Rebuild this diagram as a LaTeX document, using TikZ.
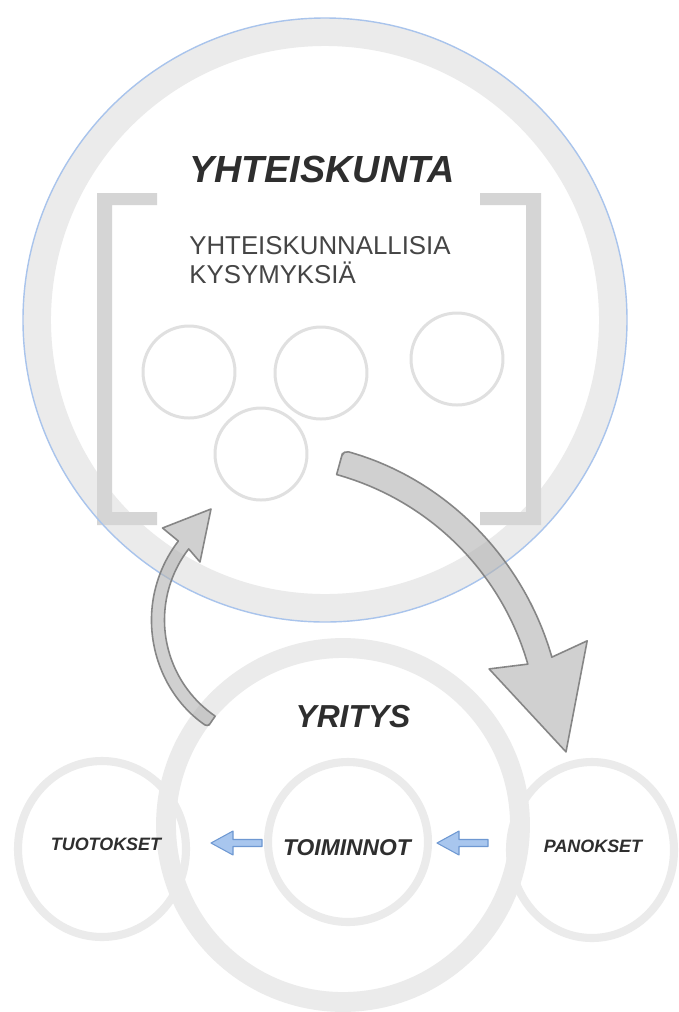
\documentclass[tikz,border=0pt]{standalone}
\usepackage{fontspec}
\setmainfont{Liberation Sans}
\definecolor{ringgray}{HTML}{EBEBEB}
\definecolor{bracketgray}{HTML}{D5D5D5}
\definecolor{thingray}{HTML}{E0E0E0}
\definecolor{skyline}{HTML}{A9C4EC}
\definecolor{inkdark}{HTML}{2E2E2E}
\definecolor{inkmid}{HTML}{454545}
\definecolor{arrowfill}{HTML}{B4B4B4}
\definecolor{arrowedge}{HTML}{7C7C7C}
\definecolor{bluefill}{HTML}{A8C6EE}
\definecolor{blueedge}{HTML}{6E98D2}
\begin{document}
\begin{tikzpicture}[x=0.02cm,y=-0.02cm,
  bigring/.style={draw=ringgray,line width=15.9pt},
  midring/.style={draw=ringgray,line width=11.3pt},
  partring/.style={draw=ringgray,line width=4.6pt},
  issue/.style={draw=thingray,line width=1.7pt},
  bracketbar/.style={fill=bracketgray},
  flowarrow/.style={fill=arrowfill,fill opacity=0.62,draw=arrowedge,draw opacity=0.9,line width=0.9pt,line join=round},
  smallflow/.style={fill=bluefill,draw=blueedge,line width=0.6pt,line join=round},
  title/.style={font=\fontsize{21.5}{24}\selectfont\bfseries\itshape,text=inkdark,inner sep=0pt},
  label/.style={font=\bfseries\itshape,text=inkdark,inner sep=0pt}]
\useasboundingbox (0,0) rectangle (679,1012);
\fill[white] (0,0) rectangle (679,1012);

% society: outer ring
\coordinate (society) at (325,320);
\draw[bigring] (society) circle[radius=288];

% brackets
\fill[bracketbar] (97,193) -- (157,193) -- (157,205) -- (112,205) -- (112,512)
  -- (157,512) -- (157,525) -- (97,525) -- cycle;
\fill[bracketbar] (541,193) -- (480,193) -- (480,205) -- (526,205) -- (526,512)
  -- (480,512) -- (480,525) -- (541,525) -- cycle;

\draw[skyline,line width=0.8pt] (society) circle[radius=302];

% titles and questions
\node[title,anchor=base] (yhteiskunta) at (322,182) {YHTEISKUNTA};
\node[anchor=base west,inner sep=0pt,align=left,text=inkmid,
  font=\fontsize{14.7}{16.4}\selectfont] (kysymykset) at (189,283)
  {YHTEISKUNNALLISIA\\KYSYMYKSIÄ};

% social issues
\draw[issue] (189,372) circle[radius=46];
\draw[issue] (321,373) circle[radius=46];
\draw[issue] (457,359) circle[radius=46];
\draw[issue] (261,454) circle[radius=46];

% company
\coordinate (company) at (343,825);
\draw[midring] (company) circle[radius=177];
\draw[partring] (102,849) ellipse[x radius=84,y radius=88];
\draw[partring] (348,842) circle[radius=80];
\draw[partring] (592,850) ellipse[x radius=82,y radius=88];

\node[label,anchor=base,font=\fontsize{18.1}{20}\selectfont\bfseries\itshape] (yritys) at (353,727) {YRITYS};
\node[label,anchor=base,font=\fontsize{10.2}{12}\selectfont\bfseries\itshape] (tuotokset) at (106,850) {TUOTOKSET};
\node[label,anchor=base,font=\fontsize{13}{15}\selectfont\bfseries\itshape] (toiminnot) at (347,855) {TOIMINNOT};
\node[label,anchor=base,font=\fontsize{10.2}{12}\selectfont\bfseries\itshape] (panokset) at (593,852) {PANOKSET};

% flow inside the company
\draw[smallflow] (211,843) -- (233,831) -- (233,839.5) -- (262,839.5) -- (262,846.5)
  -- (233,846.5) -- (233,855) -- cycle;
\draw[smallflow] (437,843) -- (459,831) -- (459,839.5) -- (488,839.5) -- (488,846.5)
  -- (459,846.5) -- (459,855) -- cycle;

% society -> inputs
\draw[flowarrow] [rounded corners=3pt] (336.6,474.5) -- (343.3,450.4) [sharp corners]
  arc[start angle=-74.5,end angle=-16,radius=300.5]
  -- (587.2,640.8) -- (566,751.9) -- (489.1,668.9) -- (527.8,664.1)
  arc[start angle=-16,end angle=-74.5,radius=275.5] [rounded corners=3pt] -- (343.3,450.4) -- (340,462);

% outputs -> society
\draw[flowarrow] [rounded corners=2pt] (215.2,716.1) -- (207.8,726.9) [sharp corners]
  arc[start angle=124.4,end angle=217.6,radius=129.5]
  -- (162.5,528) -- (211,509) -- (200,562) -- (188.7,548.9)
  arc[start angle=217.6,end angle=124.4,radius=116.5] [rounded corners=2pt] -- (207.8,726.9) -- (211.5,721.5);
\end{tikzpicture}
\end{document}
